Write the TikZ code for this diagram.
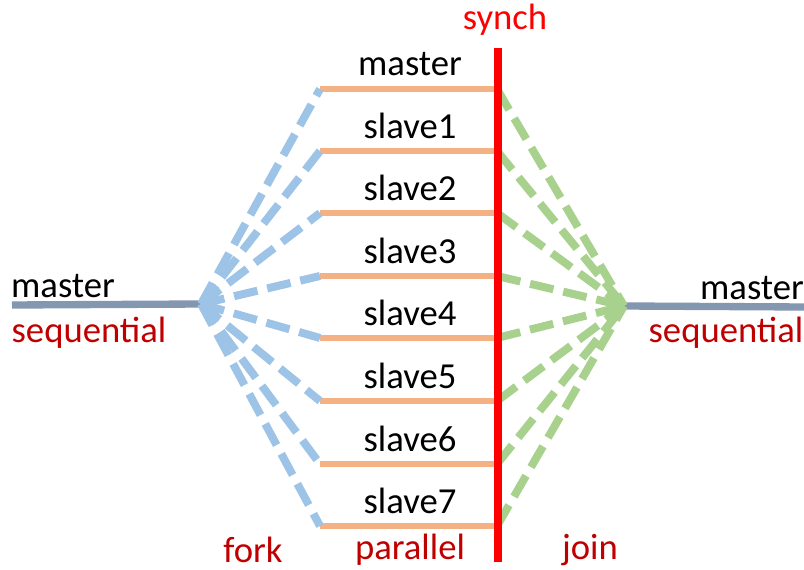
\documentclass[tikz,border=0pt]{standalone}
\usepackage{fontspec}
\setmainfont{Carlito}
\definecolor{seqline}{HTML}{8497B0}
\definecolor{parline}{HTML}{F4B183}
\definecolor{forkline}{HTML}{9DC3E6}
\definecolor{joinline}{HTML}{A9D18E}
\definecolor{darkred}{HTML}{C00000}
\tikzset{
  lbl/.style={font=\fontsize{27.5}{30}\selectfont, inner sep=0pt},
  redlbl/.style={lbl, text=darkred},
  seq/.style={draw=seqline, line width=5.5pt},
  par/.style={draw=parline, line width=5pt},
  forkdash/.style={draw=forkline, line width=6pt, dash pattern=on 18pt off 7.5pt},
  joindash/.style={draw=joinline, line width=6pt, dash pattern=on 18pt off 7.5pt},
}
\begin{document}
\begin{tikzpicture}[x=0.75pt, y=-0.75pt]
\useasboundingbox (0,0) rectangle (804,570);

% sequential parts
\coordinate (fork) at (201,304);
\coordinate (join) at (624,306);
\coordinate (lstart) at (12,305);
\coordinate (rend) at (804,307);
\draw[seq] (lstart) -- (fork);
\draw[seq] (join) -- (rend);

% parallel threads
\foreach \i/\y/\t in {0/89/master,1/151/slave1,2/213/slave2,3/276/slave3,4/338/slave4,5/401/slave5,6/464/slave6,7/526/slave7} {
  \coordinate (s\i) at (320,\y);
  \coordinate (e\i) at (497,\y);
  \draw[par] (s\i) -- (e\i);
  \node[lbl] (t\i) at (410,\y-25) {\t};
  \draw[forkdash] (fork) -- (s\i);
  \draw[joindash] (e\i) -- (join);
}

% barrier
\coordinate (sy0) at (498,48);
\coordinate (sy1) at (498,562);
\draw[red, line width=6pt] (sy0) -- (sy1);

% labels
\node[lbl] (lm) at (63,286) {master};
\node[redlbl] (ls) at (89,333) {sequential};
\node[lbl] (rm) at (752,288) {master};
\node[redlbl] (rs) at (726,333) {sequential};
\node[lbl, text=red] (synch) at (505,20) {synch};
\node[redlbl] (fk) at (253,550) {fork};
\node[redlbl] (pl) at (410,550) {parallel};
\node[redlbl] (jn) at (590,550) {join};
\end{tikzpicture}
\end{document}
